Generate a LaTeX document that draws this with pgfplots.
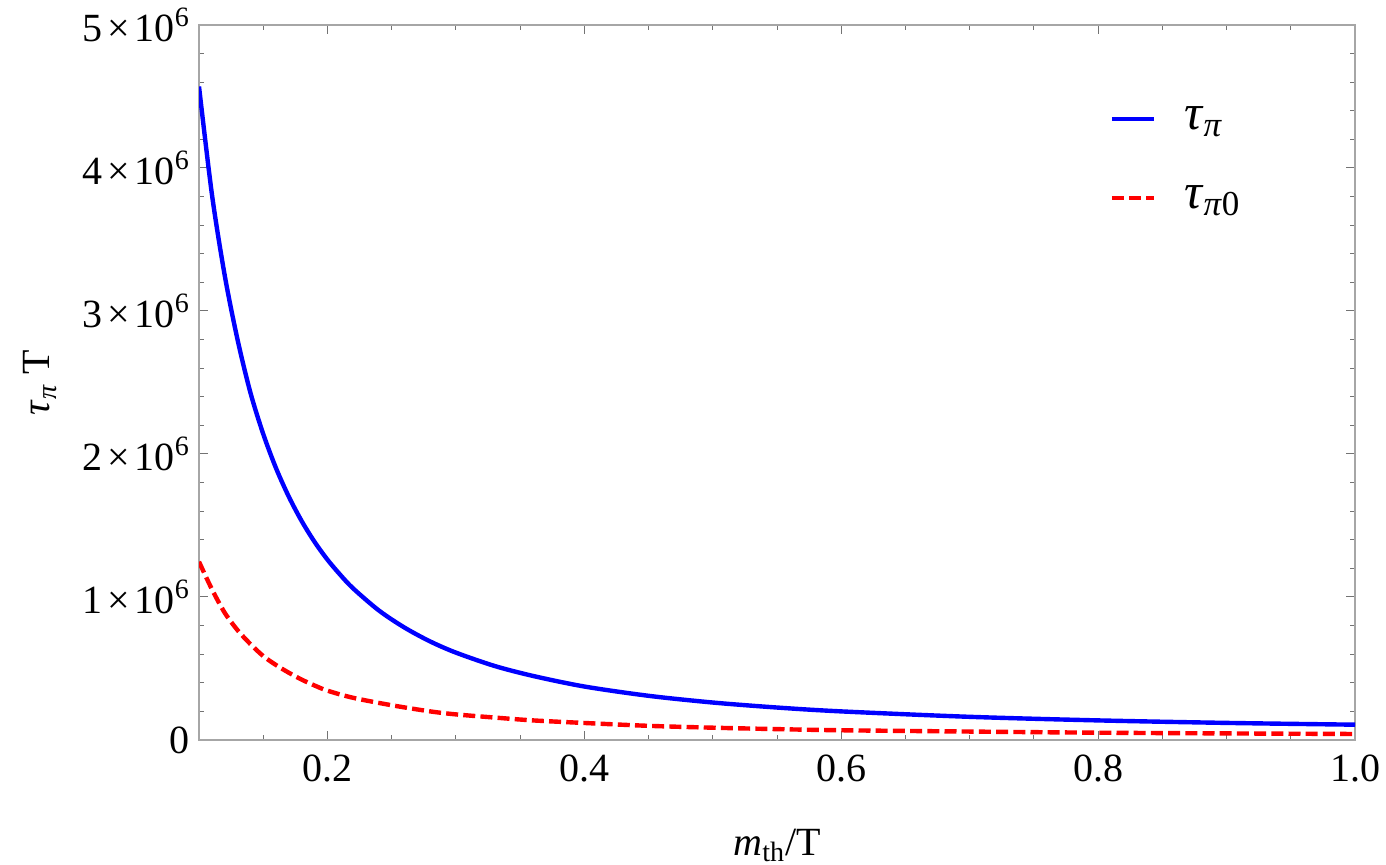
\documentclass[border=0pt]{standalone}
\usepackage{fontspec}
\setmainfont{Liberation Serif}
\usepackage{pgfplots}
\pgfplotsset{compat=1.18}
\definecolor{mblue}{RGB}{0,0,255}
\definecolor{mred}{RGB}{255,0,0}
\begin{document}
\begin{tikzpicture}
\begin{axis}[
  name=ax,
  scale only axis,
  width=578bp, height=357.5bp,
  xmin=0.1, xmax=1.0,
  ymin=0, ymax=5e6,
  scaled y ticks=false, scaled x ticks=false,
  xtick={0.2,0.4,0.6,0.8,1.0},
  xticklabels={0.2,0.4,0.6,0.8,1.0},
  minor xtick={0.15,0.25,0.3,0.35,0.45,0.5,0.55,0.65,0.7,0.75,0.85,0.9,0.95},
  ytick={0,1e6,2e6,3e6,4e6,5e6},
  yticklabels={0,
    1\kern0.12em×\kern0.12em10\textsuperscript{6},
    2\kern0.12em×\kern0.12em10\textsuperscript{6},
    3\kern0.12em×\kern0.12em10\textsuperscript{6},
    4\kern0.12em×\kern0.12em10\textsuperscript{6},
    5\kern0.12em×\kern0.12em10\textsuperscript{6}},
  minor ytick={0.2e6,0.4e6,0.6e6,0.8e6,1.2e6,1.4e6,1.6e6,1.8e6,2.2e6,2.4e6,2.6e6,2.8e6,3.2e6,3.4e6,3.6e6,3.8e6,4.2e6,4.4e6,4.6e6,4.8e6},
  tick align=inside,
  tick pos=both,
  ticklabel pos=left,
  major tick length=4.5bp,
  minor tick length=2.5bp,
  axis line style={color=black!35, line width=0.6bp},
  every tick/.style={color=black!55, line width=0.5bp},
  tick label style={font=\fontsize{20bp}{24bp}\selectfont},
  xticklabel style={yshift=-4bp},
  yticklabel style={xshift=-1bp},
  xlabel={\textit{m}\textsubscript{th}/T},
  ylabel={\textit{τ}\textsubscript{\textit{π}} T},
  label style={font=\fontsize{20bp}{24bp}\selectfont},
  xlabel style={at={(axis description cs:0.5,-0.147)}, anchor=center},
  ylabel style={at={(axis description cs:-0.1375,0.5)}, anchor=center},
  legend style={draw=none, fill=none, at={(axis description cs:0.7875,0.924)}, anchor=north west,
    font=\fontsize{25bp}{30bp}\selectfont, inner sep=0pt,
    nodes={inner ysep=13.25bp},
    /tikz/every odd column/.append style={column sep=12bp}},
  legend cell align=left,
  legend image code/.code={\draw[#1] (0bp,0bp) -- (21bp,0bp);},
]
\addplot[mblue, line width=2.2bp, smooth, tension=0.5] coordinates {
(0.10,4.57e6) (0.11,3.82e6) (0.12,3.25e6) (0.13,2.80e6) (0.14,2.43e6)
(0.15,2.14e6) (0.16,1.90e6) (0.17,1.70e6) (0.18,1.53e6) (0.19,1.385e6)
(0.20,1.261e6) (0.21,1.155e6) (0.22,1.06e6) (0.24,0.906e6) (0.26,0.786e6) (0.28,0.689e6)
(0.30,0.611e6) (0.33,0.518e6) (0.36,0.448e6) (0.40,0.374e6) (0.45,0.309e6)
(0.50,0.262e6) (0.55,0.227e6) (0.60,0.200e6) (0.70,0.162e6) (0.80,0.137e6)
(0.90,0.1195e6) (1.00,0.107e6)
};
\addlegendentry{\textit{τ}\textsubscript{\textit{π}}}
\addplot[mred, line width=2.2bp, dash pattern=on 6bp off 2.6bp, smooth, tension=0.5] coordinates {
(0.10,1.247e6) (0.11,1.055e6) (0.12,0.89e6) (0.13,0.768e6) (0.14,0.671e6)
(0.15,0.587e6) (0.16,0.524e6) (0.17,0.47e6) (0.18,0.422e6) (0.19,0.381e6) (0.20,0.345e6)
(0.22,0.295e6) (0.25,0.243e6) (0.28,0.200e6) (0.30,0.179e6) (0.33,0.157e6)
(0.36,0.137e6) (0.40,0.119e6) (0.45,0.099e6) (0.50,0.086e6) (0.55,0.076e6)
(0.60,0.068e6) (0.70,0.059e6) (0.80,0.051e6) (0.90,0.046e6) (1.00,0.042e6)
};
\addlegendentry{\textit{τ}\textsubscript{\textit{π}0}}
\end{axis}
\pgfresetboundingbox
\path ([shift={(-99.5bp,-62.5bp)}]ax.south west) rectangle ([shift={(15.5bp,12.5bp)}]ax.north east);
\end{tikzpicture}
\end{document}
